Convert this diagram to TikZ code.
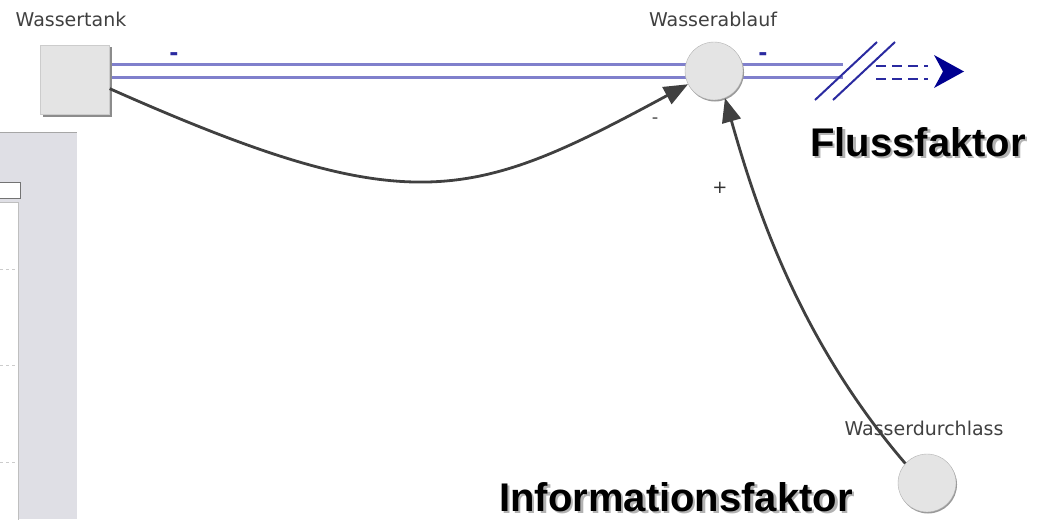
\documentclass[tikz,border=0pt]{standalone}
\usepackage{fontspec}
\setmainfont{DejaVu Sans}
\newfontfamily\bigfont{Liberation Sans}
\usetikzlibrary{arrows.meta,calc,shadows,backgrounds}
\definecolor{pipeblue}{HTML}{8080CC}
\definecolor{darkblue}{HTML}{2A2AA0}
\definecolor{navy}{HTML}{000090}
\definecolor{arcgray}{HTML}{404040}
\definecolor{panelgray}{HTML}{DFDFE5}
\definecolor{nodefill}{HTML}{E4E4E4}
\newcommand{\shadowtext}[1]{\rlap{\raisebox{-2.5pt}{\hspace{2.5pt}\textcolor{black!30}{#1}}}#1}
\tikzset{
  lbl/.style={font=\fontsize{19}{19}\selectfont, text=black!75, inner sep=0pt},
  big/.style={font=\fontsize{40}{40}\bigfont\bfseries, inner sep=0pt},
  stock/.style={rectangle, fill=nodefill, draw=black!20, minimum width=69pt, minimum height=69pt,
    drop shadow={shadow xshift=2pt, shadow yshift=-2pt, fill=black!45, opacity=1}},
  aux/.style={circle, fill=nodefill, draw=black!30, minimum size=58pt, inner sep=0pt,
    drop shadow={shadow xshift=1pt, shadow yshift=-1.5pt, fill=black!40, opacity=1}},
  pipe/.style={draw=pipeblue, line width=2.4pt},
  arc/.style={draw=arcgray, line width=2.8pt, -{Triangle[length=24pt,width=19pt]}},
  sign/.style={font=\fontsize{22}{22}\selectfont\bfseries, inner sep=0pt},
  slash/.style={draw=darkblue, line width=2pt},
  dashline/.style={draw=darkblue, line width=2pt, dash pattern=on 10pt off 6pt}
}
\begin{document}
\begin{tikzpicture}[x=1pt,y=-1pt]
\useasboundingbox (0,0) rectangle (1048,519);
% left panel
\fill[panelgray] (0,132) rectangle (77,519);
\draw[black!35, line width=1pt] (0,132.5) -- (77,132.5);
\filldraw[fill=white, draw=black!55, line width=1pt] (-1,182) rectangle (20.5,198);
\filldraw[fill=white, draw=black!25, line width=1pt] (-1,202.5) rectangle (18.5,520);
\foreach \yy in {269,365,462} \draw[black!20, dashed, line width=0.6pt] (0,\yy) -- (17,\yy);

% nodes
\node[stock] (tank) at (75,80) {};
\node[aux] (ablauf) at (714,71) {};
\node[aux] (durch) at (927,483) {};
\node[lbl] (ltank) at (71,19) {Wassertank};
\node[lbl] (lablauf) at (713,19) {Wasserablauf};
\node[lbl] (ldurch) at (924,428) {Wasserdurchlass};
\coordinate (pipeend) at (843,71);

\begin{scope}[on background layer]
\draw[pipe] ($(tank.east |- ablauf.center)+(0,-6.5)$) -- ($(ablauf.center)+(0,-6.5)$);
\draw[pipe] ($(tank.east |- ablauf.center)+(0,6.5)$) -- ($(ablauf.center)+(0,6.5)$);
\draw[pipe] ($(ablauf.center)+(0,-6.5)$) -- ($(pipeend)+(0,-6.5)$);
\draw[pipe] ($(ablauf.center)+(0,6.5)$) -- ($(pipeend)+(0,6.5)$);
\end{scope}

% cloud/sink symbol
\draw[slash] (815,100) -- (877,42);
\draw[slash] (833,100) -- (895,42);
\draw[dashline] (876,65.5) -- (928,65.5);
\draw[dashline] (876,78.5) -- (928,78.5);
\fill[navy] (934,55) -- (964,71.5) -- (934,88) -- (943,71.5) -- cycle;

% flow signs
\node[sign, text=darkblue] (m1) at (174,57) {-};
\node[sign, text=darkblue] (m2) at (763,57) {-};

% connectors
\draw[arc] (tank.-14) .. controls (410,222) and (470,202) .. (ablauf.207);
\draw[arc] (durch.138) .. controls (796,336) and (754,200) .. (ablauf.292);
\node[sign, font=\fontsize{18}{18}\selectfont, text=black!70] (m3) at (655,121) {-};
\node[sign, font=\fontsize{18}{18}\selectfont, text=black!80] (p1) at (720,188) {+};

% big labels
\node[big] (fluss) at (918,143) {\shadowtext{Flussfaktor}};
\node[big] (info) at (676,498) {\shadowtext{Informationsfaktor}};
\end{tikzpicture}
\end{document}
